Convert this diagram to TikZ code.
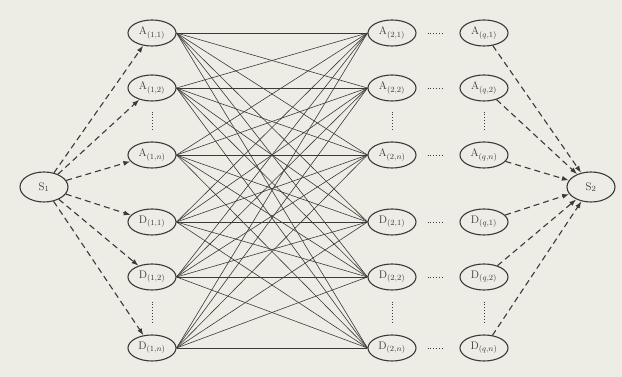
\documentclass[tikz,border=0pt]{standalone}
\usetikzlibrary{arrows.meta,positioning,shapes.geometric}
\definecolor{scanbg}{HTML}{EDEDE5}
\definecolor{ink}{HTML}{3A3A38}

\tikzset{
  unit/.style={ellipse, draw=ink, line width=1.1pt, minimum width=48pt,
    minimum height=26pt, inner sep=0pt, text=ink,
    font=\fontsize{11}{13}\selectfont},
  terminal/.style={unit, minimum height=30pt},
  feed/.style={-{Latex[length=7pt,width=5pt]}, dash pattern=on 6pt off 4pt,
    line width=1.1pt, draw=ink},
  link/.style={draw=ink, line width=0.6pt},
  gap/.style={dotted, line width=0.9pt, draw=ink}
}

\begin{document}
\begin{tikzpicture}[x=1pt, y=1pt]
  \useasboundingbox[fill=scanbg] (0,0) rectangle (622,377);

  \node[terminal] (s1) at (44,190) {S$_1$};
  \node[terminal] (s2) at (591,190) {S$_2$};

  % one column of units per stage
  \foreach \c/\x in {1/152, 2/392, q/484} {
    \node[unit] (a\c-1) at (\x,344) {A$_{(\c,1)}$};
    \node[unit] (a\c-2) at (\x,289) {A$_{(\c,2)}$};
    \node[unit] (a\c-n) at (\x,222) {A$_{(\c,n)}$};
    \node[unit] (d\c-1) at (\x,155) {D$_{(\c,1)}$};
    \node[unit] (d\c-2) at (\x,100) {D$_{(\c,2)}$};
    \node[unit] (d\c-n) at (\x,29)  {D$_{(\c,n)}$};
    \draw[gap, shorten <=10pt, shorten >=10pt] (a\c-2) -- (a\c-n);
    \draw[gap, shorten <=11pt, shorten >=11pt] (d\c-2) -- (d\c-n);
  }

  % stage 1 to stage 2, every pair
  \foreach \s in {a1-1,a1-2,a1-n,d1-1,d1-2,d1-n}
    \foreach \t in {a2-1,a2-2,a2-n,d2-1,d2-2,d2-n}
      \draw[link] (\s.east) -- (\t.west);

  % stage 2 ... stage q
  \foreach \r in {1,2,n} {
    \draw[gap, shorten <=11pt, shorten >=17pt] (a2-\r) -- (aq-\r);
    \draw[gap, shorten <=11pt, shorten >=17pt] (d2-\r) -- (dq-\r);
  }

  \foreach \t in {a1-1,a1-2,a1-n,d1-1,d1-2,d1-n}
    \draw[feed] (s1) -- (\t);
  \foreach \s in {aq-1,aq-2,aq-n,dq-1,dq-2,dq-n}
    \draw[feed] (\s) -- (s2);
\end{tikzpicture}
\end{document}
